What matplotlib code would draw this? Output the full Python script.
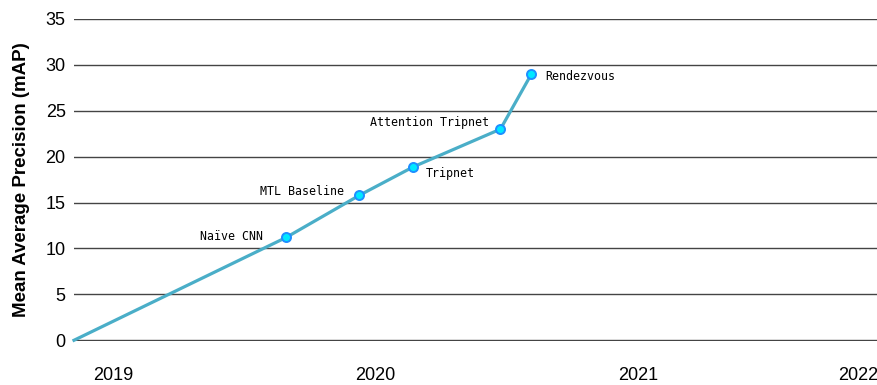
import datetime as dt
import matplotlib
matplotlib.use('Agg')
import matplotlib.pyplot as plt
import matplotlib.dates as mdates

# data
dates = [dt.date(2018, 11, 8), dt.date(2019, 8, 30), dt.date(2019, 12, 10),
         dt.date(2020, 2, 23), dt.date(2020, 6, 23), dt.date(2020, 8, 5)]
map_vals = [0, 11.2, 15.8, 18.9, 23.0, 29.0]
names = ['', 'Naïve CNN', 'MTL Baseline', 'Tripnet', 'Attention Tripnet', 'Rendezvous']
# label offsets from the point, in points
dx = [0, -17, -11, 9, -8, 10]
dy = [0, 1, 3, -5, 5, -2]

yticks = [0, 5, 10, 15, 20, 25, 30, 35]
year_labels = ['2019', '2020', '2021', '2022']

fig = plt.figure(figsize=(8.78, 3.85), dpi=100)
ax = fig.add_axes([74 / 878, 44 / 385, 1 - 74 / 878, 322 / 385])

line_col = '#4aaec8'
ax.plot(dates, map_vals, color=line_col, lw=2.3, zorder=3, clip_on=False)
ax.plot(dates[1:], map_vals[1:], 'o', ms=6.5, mfc='#00e8ff', mec='#1e8fff', mew=1.4,
        zorder=4, clip_on=False)

for d, v, n, ox, oy in zip(dates, map_vals, names, dx, dy):
    if not n:
        continue
    ax.annotate(n, (mdates.date2num(d), v), xytext=(ox, oy), textcoords='offset points',
                ha='right' if ox < 0 else 'left', va='center',
                family='DejaVu Sans Mono', fontsize=8.4)

start = mdates.date2num(dates[0])
end = mdates.date2num(dt.date(2021, 11, 30))
ax.set_xlim(start, end)
ax.set_ylim(-0.08, 35)

ticks = [mdates.date2num(dt.date(y, 1, 1)) for y in (2019, 2020, 2021)] + [end]
ax.set_xticks(ticks)
ax.set_xticklabels(year_labels, family='Liberation Sans', fontsize=13)
ax.get_xticklabels()[-1].set_horizontalalignment('right')
ax.set_yticks(yticks)
ax.set_yticklabels([str(t) for t in yticks], family='Liberation Sans', fontsize=13)
ax.tick_params(axis='x', length=0, pad=19)
ax.tick_params(axis='y', length=0, pad=6)

ax.set_ylabel('Mean Average Precision (mAP)', family='Liberation Sans', fontsize=13.5,
              fontweight='bold', labelpad=11)

for s in ax.spines.values():
    s.set_visible(False)
ax.grid(axis='y', color='#444444', lw=1)
ax.set_axisbelow(True)

fig.savefig('out.png', dpi=100)
